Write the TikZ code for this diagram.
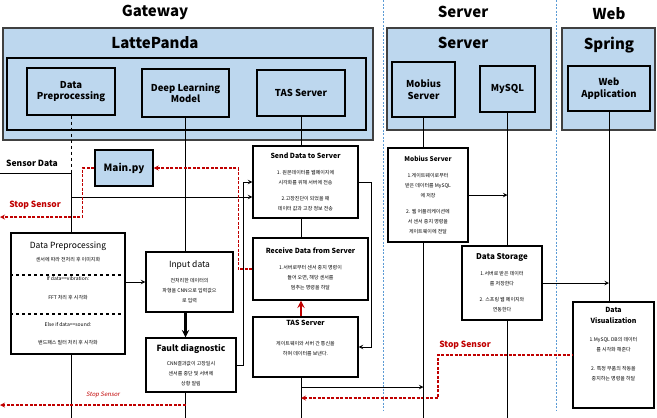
\documentclass[tikz,border=0pt]{standalone}
\usepackage{fontspec}
\setmainfont{Noto Sans CJK KR}[AutoFakeSlant=0.2]
\usetikzlibrary{positioning,shapes,arrows,calc}
\definecolor{boxblue}{RGB}{189,215,238}
\definecolor{laneblue}{RGB}{91,155,213}
\definecolor{stopred}{RGB}{192,0,0}
\definecolor{framegray}{RGB}{64,64,64}
\newcommand{\kbody}{\fontsize{5}{10}\selectfont}
\newcommand{\ttlfont}{\fontsize{7}{9}\selectfont\bfseries}

\begin{document}
\begin{tikzpicture}[x=1pt, y=-1pt,
    >=stealth,
    title/.style={font=\fontsize{15}{17}\selectfont\bfseries},
    outer/.style={rectangle, draw=framegray, line width=1.4pt, fill=boxblue},
    frame/.style={rectangle, draw=black, line width=1.3pt, fill=boxblue},
    inner/.style={
        rectangle,
        draw=black,
        line width=1.3pt,
        fill=boxblue,
        align=center,
        font=\fontsize{9.5}{11.5}\selectfont\bfseries
    },
    block/.style={rectangle, draw=black, line width=1.3pt, fill=white, align=center, inner sep=2pt, font=\kbody},
    conn/.style={draw=black, line width=1pt},
    bigarrow/.style={->, line width=2.2pt},
    stopline/.style={draw=stopred, line width=1.2pt, dash pattern=on 3pt off 1.5pt},
    stoplabel/.style={text=stopred, font=\fontsize{8.5}{10}\selectfont\bfseries},
    lane/.style={draw=laneblue, line width=0.8pt, dash pattern=on 2pt off 1.5pt}]

    \useasboundingbox (0,0) rectangle (657,418);

    % Column titles
    \node[title] (gwtitle) at (155,12) {Gateway};
    \node[title] (svtitle) at (463,12) {Server};
    \node[title] (webtitle) at (609,14) {Web};

    % Lane separators
    \coordinate (laneAtop) at (383,0);
    \coordinate (laneAbot) at (383,410);
    \coordinate (laneBtop) at (556,0);
    \coordinate (laneBbot) at (556,410);
    \draw[lane] (laneAtop) -- (laneAbot);
    \draw[lane] (laneBtop) -- (laneBbot);

    % Gateway hardware
    \node[outer, minimum width=370, minimum height=112] (latte) at (188,84) {};
    \node[title] (lattelabel) at (155,43) {LattePanda};
    \node[frame, minimum width=359, minimum height=72] (lattein) at (186.5,94) {};
    \node[inner, minimum width=88, minimum height=47] (dptop) at (71,91.5) {Data\\Preprocessing};
    \node[inner, minimum width=87, minimum height=48] (dltop) at (185.5,93) {Deep Learning\\Model};
    \node[inner, minimum width=88, minimum height=46] (tastop) at (301,93) {TAS Server};

    % Server side
    \node[outer, minimum width=164, minimum height=102] (server) at (469,79) {};
    \node[title] (serverlabel) at (463,43) {Server};
    \node[inner, minimum width=63, minimum height=55] (mobtop) at (423.5,89.5) {Mobius\\Server};
    \node[inner, minimum width=55, minimum height=46] (mysql) at (507.5,89) {MySQL};

    % Web side
    \node[outer, minimum width=93, minimum height=102] (spring) at (608.5,79) {};
    \node[title] (springlabel) at (609,45) {Spring};
    \node[inner, minimum width=82, minimum height=45] (webapp) at (609,88.5) {Web\\Application};

    % Gateway flow
    \node[font=\fontsize{8.5}{10}\selectfont\bfseries] (sensorlabel) at (32,163) {Sensor Data};
    \node[inner, minimum width=58, minimum height=36, font=\fontsize{10}{12}\selectfont\bfseries] (mainpy) at (124,168) {Main.py};
    \node[block, minimum width=114, minimum height=121] (dpbox) at (68,293.5) {
        {\fontsize{8.5}{10}\selectfont Data Preprocessing}\\[3pt]
        센서에 따라 전처리 후 이미지화\\[9pt]
        If data==vibration:\\[9pt]
        FFT 처리 후 시각화\\[17pt]
        Else if data==sound:\\[8pt]
        밴드패스 필터 처리 후 시각화
    };
    \node[block, minimum width=87, minimum height=60] (input) at (189.5,282) {
        {\fontsize{8.5}{10}\selectfont Input data}\\[5pt]
        전처리한 데이터의\\
        파형을 CNN으로 입력값으\\
        로 입력
    };
    \node[block, minimum width=90, minimum height=54] (fault) at (191,365) {
        {\fontsize{8.5}{10}\selectfont\bfseries Fault diagnostic}\\[4pt]
        CNN결과값이 고장일시\\
        센서를 중단 및 서버에\\
        상황 알림
    };
    \node[block, minimum width=105, minimum height=72] (send) at (305.5,182) {
        {\ttlfont Send Data to Server}\\[6pt]
        1. 원본데이터를 웹페이지에\\
        시각화를 위해 서버에 전송\\[6pt]
        2.고장진단이 되었을 때\\
        데이터 값과 고장 정보 전송
    };
    \node[block, minimum width=115, minimum height=62] (recv) at (310.5,269) {
        {\ttlfont Receive Data from Server}\\[6pt]
        1.서버로부터 센서 중지 명령이\\
        들어 오면, 해당 센서를\\
        멈추는 명령을 하달
    };
    \node[block, minimum width=105, minimum height=60] (tas) at (305.5,347) {
        {\ttlfont TAS Server}\\[10pt]
        게이트웨이와 서버 간 통신을\\
        하며 데이터를 보낸다.\\[8pt]
        \mbox{}
    };

    % Server flow
    \node[block, minimum width=80, minimum height=94] (mobius) at (428,195) {
        {\fontsize{6.5}{8}\selectfont\bfseries Mobius Server}\\[6pt]
        1.게이트웨이로부터\\
        받은 데이터를 MySQL\\
        에 저장\\[6pt]
        2. 웹 어플리케이션에\\
        서 센서 중지 명령을\\
        게이트웨이에 전달
    };
    \node[block, minimum width=80, minimum height=74] (storage) at (502,283) {
        {\fontsize{8}{10}\selectfont\bfseries Data Storage}\\[6pt]
        1.서버로 받은 데이터\\
        를 저장한다\\[6pt]
        2. 스프링 웹 페이지와\\
        연동한다
    };
    \node[block, minimum width=81, minimum height=106] (visual) at (613.5,355) {
        {\ttlfont Data}\\[1pt]
        {\ttlfont Visualization}\\[8pt]
        1.MySQL DB의 데이터\\
        를 시각화 해준다\\[9pt]
        2. 특정 부품의 작동을\\
        중지하는 명령을 하달\\[12pt]
        \mbox{}
    };

    % Helper coordinates
    \coordinate (floor) at (0,418);
    \coordinate (sdin) at (0,173);
    \coordinate (sj) at (71,173);
    \coordinate (hj) at (71,197);
    \coordinate (stopL) at (0,217);
    \coordinate (stopB) at (0,405);
    \coordinate (tasj) at (301,387);
    \coordinate (tasr) at (301,398);
    \coordinate (stopmid) at (438,355);

    % Gateway connectors
    \draw[line width=1pt, dashed] (dptop.south) -- (sj);
    \draw[conn] (sdin) -- (sj) -- (sj |- dpbox.north);
    \draw[conn, ->] (hj) -- (hj -| send.west);
    \draw[conn] (dltop.south) -- (dltop.south |- input.north);
    \draw[conn, ->] (dpbox.east |- input.west) -- (input.west);
    \draw[bigarrow] (dltop.south |- input.south) -- (dltop.south |- fault.north);
    \draw[conn] (sj |- dpbox.south) -- (sj |- floor);
    \draw[conn] (dltop.south |- fault.south) -- (dltop.south |- floor);
    \draw[conn, ->] (fault.east) -- ++(7,0) |- (send.west);
    \draw[conn] (tastop.south) -- (tastop.south |- send.north);
    \draw[conn] (tastop.south |- send.south) -- (tastop.south |- recv.north);
    \draw[conn, ->] (send.east) -- ++(13,0) |- (tas.east);
    \draw[bigarrow, draw=stopred] (tastop.south |- tas.north) -- (tastop.south |- recv.south);
    \draw[conn] (tastop.south |- tas.south) -- (tastop.south |- floor);
    \draw[conn, ->] (tasj) -- (tasj -| mobtop.south);

    % Stop sensor paths
    \draw[stopline, ->] (recv.west) -- ++(-14,0) |- (mainpy.east);
    \draw[stopline, ->] (mainpy.west) -- ++(-12,0) |- (stopL);
    \node[stoplabel] (stopA) at (35,205) {Stop Sensor};
    \draw[stopline, ->] (dltop.south |- stopB) -- (stopB);
    \node[text=stopred, font=\fontsize{6}{7}\selectfont\itshape] (stopC) at (103,395) {Stop Sensor};
    \draw[stopline, <-] (tasr) -- (tasr -| stopmid) -- (stopmid) -- (visual.west);
    \node[stoplabel] (stopD) at (465,345) {Stop Sensor};

    % Server connectors
    \draw[conn] (mobtop.south) -- (mobtop.south |- mobius.north);
    \draw[conn] (mobtop.south |- mobius.south) -- (mobtop.south |- floor);
    \draw[conn, ->] (mobius.east) -- (mobius.east -| mysql.south);
    \draw[conn] (mysql.south) -- (mysql.south |- storage.north);
    \draw[conn] (mysql.south |- storage.south) -- (mysql.south |- floor);
    \draw[conn, ->] (storage.east) -- (storage.east -| webapp.south);
    \draw[conn] (webapp.south) -- (webapp.south |- visual.north);

    % Separators inside preprocessing box
    \coordinate (sepA) at (0,275);
    \coordinate (sepB) at (0,314);
    \draw[line width=1.2pt, dashed] (dpbox.west |- sepA) -- (dpbox.east |- sepA);
    \draw[line width=1.2pt, dashed] (dpbox.west |- sepB) -- (dpbox.east |- sepB);
\end{tikzpicture}
\end{document}
